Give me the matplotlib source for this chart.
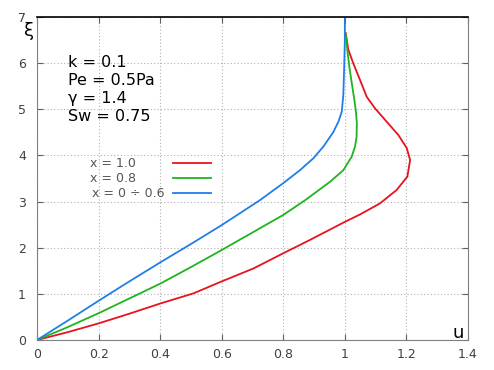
import numpy as np
import matplotlib
matplotlib.use("Agg")
import matplotlib.pyplot as plt

# curves: (u, xi)
u_red = [0.0, 0.1, 0.2, 0.3, 0.4, 0.508, 0.6, 0.703, 0.8, 0.887, 1.0, 1.049, 1.114, 1.168,
         1.203, 1.212, 1.201, 1.174, 1.136, 1.098, 1.071, 1.049, 1.027, 1.011, 1.003]
xi_red = [0.0, 0.17, 0.36, 0.57, 0.79, 1.01, 1.27, 1.55, 1.88, 2.17, 2.56, 2.72, 2.96, 3.25,
          3.54, 3.90, 4.16, 4.44, 4.73, 5.02, 5.27, 5.64, 6.0, 6.3, 6.65]

u_green = [0.0, 0.1, 0.2, 0.3, 0.4, 0.5, 0.6, 0.7, 0.8, 0.871, 0.952, 0.995, 1.022,
           1.033, 1.038, 1.039, 1.036, 1.031, 1.024, 1.015, 1.008, 1.003]
xi_green = [0.0, 0.28, 0.58, 0.9, 1.22, 1.58, 1.95, 2.33, 2.71, 3.03, 3.43, 3.68, 3.97,
            4.19, 4.4, 4.7, 4.95, 5.2, 5.5, 5.9, 6.29, 6.62]

u_blue = [0.0, 0.1, 0.2, 0.3, 0.4, 0.5, 0.6, 0.724, 0.8, 0.854, 0.898, 0.930,
          0.962, 0.979, 0.99, 0.995, 0.998, 1.0, 1.0]
xi_blue = [0.0, 0.42, 0.85, 1.27, 1.68, 2.08, 2.49, 3.03, 3.40, 3.68, 3.94, 4.19,
           4.5, 4.73, 4.95, 5.31, 5.96, 6.5, 7.0]

labels = ["x = 1.0", "x = 0.8", "x = 0 \u00f7 0.6"]
colors = ["#e8121e", "#1fb41f", "#1f7fe8"]
params = ["k = 0.1", "Pe = 0.5Pa", "\u03b3 = 1.4", "Sw = 0.75"]

fig = plt.figure(figsize=(4.94, 3.70), dpi=100)
ax = fig.add_axes([37 / 494, 1 - 340 / 370, (468 - 37) / 494, (340 - 17) / 370])

for u, xi, c in zip([u_red, u_green, u_blue], [xi_red, xi_green, xi_blue], colors):
    ax.plot(u, xi, color=c, lw=1.3, solid_joinstyle="round")

ax.set_xlim(0, 1.4)
ax.set_ylim(0, 7)
ax.set_xticks(np.arange(0, 1.41, 0.2))
ax.set_xticklabels(["0", "0.2", "0.4", "0.6", "0.8", "1", "1.2", "1.4"])
ax.set_yticks(range(8))
ax.grid(True, color="#b0b0b0", ls=(0, (1, 2)), lw=0.8)
ax.tick_params(direction="in", colors="#606060", labelcolor="#404040",
               labelsize=9, right=True, top=True, length=4)
ax.tick_params(axis="y", pad=8)
ax.tick_params(axis="x", pad=6)
for s in ["left", "bottom", "right"]:
    ax.spines[s].set_color("#808080")
ax.spines["top"].set_color("black")
ax.spines["top"].set_linewidth(1.2)

for i, p in enumerate(params):
    ax.text((68 - 37) / 431, (340 - (62 + 18 * i)) / 323, p, transform=ax.transAxes,
            fontsize=11.5, va="center", ha="left")

ax.text((29 - 37) / 431, (340 - 31) / 323, "\u03be", transform=ax.transAxes,
        fontsize=13, ha="center", va="center")
ax.text((458 - 37) / 431, (340 - 333) / 323, "u", transform=ax.transAxes,
        fontsize=13, ha="center", va="center")

for i, (lab, c) in enumerate(zip(labels, colors)):
    y = (340 - (163 + 15 * i)) / 323
    ax.text((90 + 2 * (i == 2) - 37) / 431, y, lab, transform=ax.transAxes,
            fontsize=9, color="#555555", va="center", ha="left")
    ax.plot([(173 - 37) / 431, (211 - 37) / 431], [y, y], transform=ax.transAxes,
            color=c, lw=1.3)

fig.savefig("out.png", dpi=100)
